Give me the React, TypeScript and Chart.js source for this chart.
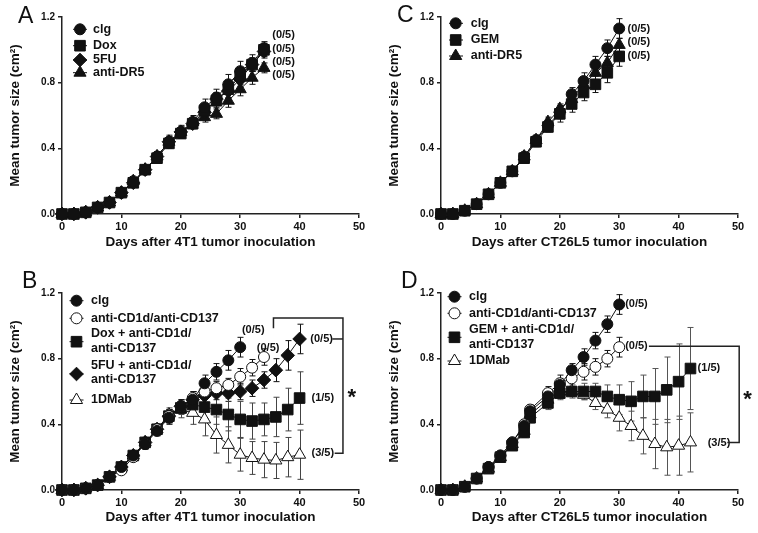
import React, { useEffect, useRef } from 'react';
import { Chart, registerables } from 'chart.js';
Chart.register(...registerables);

const FONT = '"Liberation Sans", Arial, Helvetica, sans-serif';

// ---------- shared axes ----------
const xTickValues = [0, 10, 20, 30, 40, 50];
const yTickValues = [0, 0.4, 0.8, 1.2];
const yTitle = 'Mean tumor size (cm²)';

// ---------- Panel A (4T1) ----------
const daysA = [0, 2, 4, 6, 8, 10, 12, 14, 16, 18, 20, 22, 24, 26, 28, 30, 32, 34];
const aClg = [0, 0, 0.01, 0.04, 0.07, 0.13, 0.2, 0.27, 0.35, 0.44, 0.5, 0.56, 0.65, 0.71, 0.79, 0.87, 0.92, 1.01];
const aClgErr = [0, 0, 0.005, 0.01, 0.01, 0.015, 0.02, 0.02, 0.03, 0.04, 0.04, 0.04, 0.05, 0.05, 0.06, 0.06, 0.05, 0.04];
const aDox = [0, 0, 0.01, 0.04, 0.07, 0.13, 0.19, 0.27, 0.34, 0.43, 0.49, 0.55, 0.63, 0.69, 0.76, 0.84, 0.91, 1.0];
const aDoxErr = [0, 0, 0.005, 0.01, 0.01, 0.015, 0.02, 0.02, 0.03, 0.03, 0.03, 0.03, 0.04, 0.04, 0.05, 0.05, 0.04, 0.04];
const a5fu = [0, 0, 0.01, 0.04, 0.07, 0.13, 0.19, 0.27, 0.35, 0.44, 0.5, 0.55, 0.62, 0.7, 0.75, 0.82, 0.91, 0.99];
const a5fuErr = [0, 0, 0.005, 0.01, 0.01, 0.015, 0.02, 0.02, 0.03, 0.03, 0.03, 0.03, 0.04, 0.04, 0.05, 0.05, 0.04, 0.04];
const aDr5 = [0, 0, 0.01, 0.04, 0.07, 0.13, 0.2, 0.27, 0.35, 0.44, 0.5, 0.56, 0.59, 0.61, 0.69, 0.76, 0.83, 0.89];
const aDr5Err = [0, 0, 0.005, 0.01, 0.01, 0.015, 0.02, 0.02, 0.02, 0.03, 0.03, 0.03, 0.03, 0.03, 0.04, 0.04, 0.04, 0.03];
const legendA = [['clg'], ['Dox'], ['5FU'], ['anti-DR5']];
const notesA = ['(0/5)', '(0/5)', '(0/5)', '(0/5)'];

// ---------- Panel C (CT26L5) ----------
const daysC = [0, 2, 4, 6, 8, 10, 12, 14, 16, 18, 20, 22, 24, 26, 28, 30];
const cClg = [0, 0, 0.02, 0.06, 0.12, 0.19, 0.26, 0.35, 0.45, 0.54, 0.62, 0.73, 0.81, 0.91, 1.01, 1.13];
const cClgErr = [0, 0, 0.005, 0.01, 0.01, 0.015, 0.02, 0.02, 0.03, 0.03, 0.04, 0.04, 0.05, 0.05, 0.05, 0.06];
const cGem = [0, 0, 0.02, 0.06, 0.12, 0.19, 0.26, 0.34, 0.44, 0.53, 0.61, 0.67, 0.74, 0.79, 0.86, 0.96];
const cGemErr = [0, 0, 0.005, 0.01, 0.01, 0.015, 0.02, 0.02, 0.03, 0.03, 0.05, 0.05, 0.05, 0.05, 0.06, 0.06];
const cDr5 = [0, 0, 0.02, 0.06, 0.12, 0.19, 0.26, 0.35, 0.45, 0.56, 0.64, 0.7, 0.79, 0.86, 0.92, 1.03];
const cDr5Err = [0, 0, 0.005, 0.01, 0.01, 0.015, 0.02, 0.02, 0.03, 0.03, 0.03, 0.03, 0.04, 0.04, 0.04, 0.04];
const legendC = [['clg'], ['GEM'], ['anti-DR5']];
const notesC = ['(0/5)', '(0/5)', '(0/5)'];

// ---------- Panel B (4T1 combos) ----------
const daysB = [0, 2, 4, 6, 8, 10, 12, 14, 16, 18, 20, 22, 24, 26, 28, 30, 32, 34, 36, 38, 40];
const bClg = [0, 0, 0.01, 0.03, 0.08, 0.14, 0.21, 0.28, 0.36, 0.44, 0.51, 0.55, 0.65, 0.72, 0.79, 0.87];
const bClgErr = [0, 0, 0.005, 0.01, 0.015, 0.02, 0.02, 0.03, 0.03, 0.04, 0.04, 0.05, 0.05, 0.05, 0.06, 0.06];
const bCd = [0, 0, 0.01, 0.03, 0.08, 0.12, 0.2, 0.28, 0.37, 0.45, 0.51, 0.56, 0.6, 0.62, 0.64, 0.69, 0.745, 0.81];
const bCdErr = [0, 0, 0.005, 0.01, 0.015, 0.02, 0.02, 0.03, 0.03, 0.04, 0.04, 0.04, 0.04, 0.04, 0.04, 0.05, 0.05, 0.05];
const bDox = [0, 0, 0.01, 0.03, 0.08, 0.14, 0.21, 0.29, 0.37, 0.45, 0.5, 0.52, 0.505, 0.49, 0.46, 0.43, 0.42, 0.43, 0.445, 0.49, 0.56];
const bDoxErr = [0, 0, 0.005, 0.01, 0.015, 0.02, 0.02, 0.03, 0.03, 0.04, 0.04, 0.05, 0.07, 0.09, 0.1, 0.11, 0.11, 0.1, 0.12, 0.13, 0.16];
const b5fu = [0, 0, 0.01, 0.03, 0.08, 0.14, 0.21, 0.29, 0.37, 0.45, 0.51, 0.55, 0.575, 0.59, 0.59, 0.6, 0.62, 0.67, 0.73, 0.82, 0.92];
const b5fuErr = [0, 0, 0.005, 0.01, 0.015, 0.02, 0.02, 0.03, 0.03, 0.04, 0.03, 0.04, 0.04, 0.04, 0.05, 0.05, 0.05, 0.05, 0.07, 0.09, 0.09];
const bMab = [0, 0, 0.01, 0.03, 0.08, 0.14, 0.21, 0.29, 0.37, 0.46, 0.49, 0.47, 0.43, 0.335, 0.275, 0.215, 0.195, 0.185, 0.18, 0.2, 0.215];
const bMabErr = [0, 0, 0.005, 0.01, 0.015, 0.02, 0.02, 0.03, 0.03, 0.04, 0.05, 0.07, 0.1, 0.11, 0.11, 0.1, 0.1, 0.11, 0.11, 0.12, 0.15];
const legendB = [['clg'], ['anti-CD1d/anti-CD137'], ['Dox + anti-CD1d/', 'anti-CD137'], ['5FU + anti-CD1d/', 'anti-CD137'], ['1DMab']];
const notesB = ['(0/5)', '(0/5)', '(0/5)', '(1/5)', '(3/5)'];

// ---------- Panel D (CT26L5 combos) ----------
const daysD = [0, 2, 4, 6, 8, 10, 12, 14, 15, 18, 20, 22, 24, 26, 28, 30, 32, 34, 36, 38, 40, 42];
const dClg = [0, 0, 0.02, 0.07, 0.14, 0.21, 0.29, 0.39, 0.48, 0.57, 0.64, 0.73, 0.81, 0.91, 1.01, 1.13];
const dClgErr = [0, 0, 0.005, 0.01, 0.015, 0.02, 0.02, 0.03, 0.03, 0.04, 0.04, 0.04, 0.05, 0.05, 0.05, 0.06];
const dCd = [0, 0, 0.02, 0.07, 0.14, 0.21, 0.29, 0.4, 0.49, 0.59, 0.65, 0.68, 0.72, 0.75, 0.8, 0.87];
const dCdErr = [0, 0, 0.005, 0.01, 0.015, 0.02, 0.02, 0.03, 0.03, 0.04, 0.05, 0.05, 0.05, 0.05, 0.05, 0.06];
const dGem = [0, 0, 0.02, 0.07, 0.13, 0.2, 0.27, 0.35, 0.44, 0.53, 0.59, 0.6, 0.6, 0.6, 0.57, 0.55, 0.54, 0.57, 0.57, 0.61, 0.66, 0.74];
const dGemErr = [0, 0, 0.005, 0.01, 0.015, 0.02, 0.02, 0.03, 0.03, 0.04, 0.04, 0.04, 0.05, 0.05, 0.07, 0.09, 0.12, 0.13, 0.17, 0.2, 0.23, 0.25];
const dMab = [0, 0, 0.02, 0.07, 0.13, 0.2, 0.28, 0.36, 0.46, 0.55, 0.6, 0.6, 0.58, 0.53, 0.49, 0.44, 0.39, 0.33, 0.28, 0.26, 0.27, 0.29];
const dMabErr = [0, 0, 0.005, 0.01, 0.015, 0.02, 0.02, 0.03, 0.03, 0.04, 0.04, 0.03, 0.03, 0.04, 0.05, 0.08, 0.09, 0.11, 0.15, 0.17, 0.18, 0.18];
const legendD = [['clg'], ['anti-CD1d/anti-CD137'], ['GEM + anti-CD1d/', 'anti-CD137'], ['1DMab']];
const notesD = ['(0/5)', '(0/5)', '(1/5)', '(3/5)'];

// ---------- layout ----------
const AREA_LEFT = 62;
const AREA_RIGHT = 359;
const PANEL_W = 379;

type Series = {
  label: string[]; days: number[]; vals: number[]; errs: number[];
  style: string; filled: boolean; r: number; errColor: string;
};
type Note = { x: number; y: number; text: string; align: CanvasTextAlign };
type LegendRow = { ys: number[]; my: number };
type Spec = {
  left: number; top: number; height: number; areaTop: number; areaBottom: number; titlePad: number;
  letter: string; letterX: number; letterY: number; xTitle: string;
  series: Series[]; notes: Note[]; brackets: number[][][]; star?: { x: number; y: number };
  legend: { mx: number; x0: number; x1: number; tx: number; rows: LegendRow[] };
};

function mk(label: string[], days: number[], vals: number[], errs: number[], style: string, filled: boolean, r: number, errColor = '#111'): Series {
  return { label, days, vals, errs, style, filled, r, errColor };
}

const specs: Spec[] = [
  {
    left: 0, top: 0, height: 266, areaTop: 17, areaBottom: 214, titlePad: 16,
    letter: 'A', letterX: 18, letterY: 23, xTitle: 'Days after 4T1 tumor inoculation',
    series: [
      mk(legendA[0], daysA, aClg, aClgErr, 'circle', true, 5.5),
      mk(legendA[1], daysA, aDox, aDoxErr, 'rect', true, 7.5),
      mk(legendA[2], daysA, a5fu, a5fuErr, 'rectRot', true, 6.8),
      mk(legendA[3], daysA, aDr5, aDr5Err, 'triangle', true, 7),
    ],
    notes: [
      { x: 35.4, y: 1.09, text: notesA[0], align: 'left' },
      { x: 35.4, y: 1.005, text: notesA[1], align: 'left' },
      { x: 35.4, y: 0.924, text: notesA[2], align: 'left' },
      { x: 35.4, y: 0.849, text: notesA[3], align: 'left' },
    ],
    brackets: [],
    legend: { mx: 80, x0: 73, x1: 87, tx: 93, rows: [{ ys: [29.3], my: 29.3 }, { ys: [45.7], my: 45.7 }, { ys: [60], my: 60 }, { ys: [72.7], my: 72.7 }] },
  },
  {
    left: 379, top: 0, height: 266, areaTop: 17, areaBottom: 214, titlePad: 16,
    letter: 'C', letterX: 18, letterY: 22, xTitle: 'Days after CT26L5 tumor inoculation',
    series: [
      mk(legendC[0], daysC, cClg, cClgErr, 'circle', true, 5.5),
      mk(legendC[1], daysC, cGem, cGemErr, 'rect', true, 7.5),
      mk(legendC[2], daysC, cDr5, cDr5Err, 'triangle', true, 7),
    ],
    notes: [
      { x: 31.4, y: 1.127, text: notesC[0], align: 'left' },
      { x: 31.4, y: 1.046, text: notesC[1], align: 'left' },
      { x: 31.4, y: 0.964, text: notesC[2], align: 'left' },
    ],
    brackets: [],
    legend: { mx: 76.7, x0: 70, x1: 84, tx: 91.7, rows: [{ ys: [23.3], my: 23.3 }, { ys: [40], my: 40 }, { ys: [56], my: 56 }] },
  },
  {
    left: 0, top: 266, height: 267, areaTop: 27, areaBottom: 224, titlePad: 7.4,
    letter: 'B', letterX: 22, letterY: 22, xTitle: 'Days after 4T1 tumor inoculation',
    series: [
      mk(legendB[0], daysB, bClg, bClgErr, 'circle', true, 5.5),
      mk(legendB[1], daysB, bCd, bCdErr, 'circle', false, 5.5),
      mk(legendB[2], daysB, bDox, bDoxErr, 'rect', true, 7.5, '#444'),
      mk(legendB[3], daysB, b5fu, b5fuErr, 'rectRot', true, 6.8),
      mk(legendB[4], daysB, bMab, bMabErr, 'triangle', false, 7, '#444'),
    ],
    notes: [
      { x: 32.2, y: 0.975, text: notesB[0], align: 'center' },
      { x: 34.7, y: 0.864, text: notesB[1], align: 'center' },
      { x: 41.8, y: 0.92, text: notesB[2], align: 'left' },
      { x: 42.0, y: 0.559, text: notesB[3], align: 'left' },
      { x: 42.0, y: 0.224, text: notesB[4], align: 'left' },
    ],
    brackets: [
      [[35.6, 0.985], [35.6, 1.047], [47.3, 1.047], [47.3, 0.224], [45.9, 0.224]],
      [[45.5, 0.92], [47.3, 0.92]],
    ],
    star: { x: 48.8, y: 0.6 },
    legend: {
      mx: 76.5, x0: 69.5, x1: 83.5, tx: 91,
      rows: [{ ys: [34.7], my: 34.7 }, { ys: [52.3], my: 52.3 }, { ys: [67.3, 82.3], my: 75.7 }, { ys: [100, 114], my: 108 }, { ys: [134], my: 134 }],
    },
  },
  {
    left: 379, top: 266, height: 267, areaTop: 27, areaBottom: 224, titlePad: 7.4,
    letter: 'D', letterX: 22, letterY: 22, xTitle: 'Days after CT26L5 tumor inoculation',
    series: [
      mk(legendD[0], daysD, dClg, dClgErr, 'circle', true, 5.5),
      mk(legendD[1], daysD, dCd, dCdErr, 'circle', false, 5.5),
      mk(legendD[2], daysD, dGem, dGemErr, 'rect', true, 7.5, '#555'),
      mk(legendD[3], daysD, dMab, dMabErr, 'triangle', false, 7, '#555'),
    ],
    notes: [
      { x: 31.0, y: 1.135, text: notesD[0], align: 'left' },
      { x: 31.0, y: 0.875, text: notesD[1], align: 'left' },
      { x: 43.2, y: 0.742, text: notesD[2], align: 'left' },
      { x: 44.9, y: 0.289, text: notesD[3], align: 'left' },
    ],
    brackets: [
      [[35.0, 0.875], [50.2, 0.875], [50.2, 0.289], [48.2, 0.289]],
    ],
    star: { x: 51.6, y: 0.59 },
    legend: {
      mx: 75.5, x0: 68.5, x1: 82.5, tx: 90,
      rows: [{ ys: [30.7], my: 30.7 }, { ys: [47.3], my: 47.3 }, { ys: [64, 79], my: 71.3 }, { ys: [95], my: 95 }],
    },
  },
];

function drawMarker(ctx: CanvasRenderingContext2D, style: string, x: number, y: number, r: number, filled: boolean) {
  ctx.beginPath();
  if (style === 'circle') ctx.arc(x, y, r, 0, Math.PI * 2);
  else if (style === 'rect') { const s = r * Math.SQRT1_2; ctx.rect(x - s, y - s, 2 * s, 2 * s); }
  else if (style === 'rectRot') { ctx.moveTo(x - r, y); ctx.lineTo(x, y - r); ctx.lineTo(x + r, y); ctx.lineTo(x, y + r); ctx.closePath(); }
  else { ctx.moveTo(x, y - r); ctx.lineTo(x + 0.866 * r, y + 0.5 * r); ctx.lineTo(x - 0.866 * r, y + 0.5 * r); ctx.closePath(); }
  ctx.fillStyle = filled ? '#111' : '#fff';
  ctx.fill();
  ctx.lineWidth = 1;
  ctx.strokeStyle = '#111';
  ctx.stroke();
}

function Panel({ spec }: { spec: Spec }) {
  const ref = useRef<HTMLCanvasElement | null>(null);
  useEffect(() => {
    const canvas = ref.current;
    if (!canvas) return;
    const errorPlugin = {
      id: 'errBars',
      beforeDatasetsDraw(chart: any) {
        const ctx = chart.ctx as CanvasRenderingContext2D;
        const xs = chart.scales.x, ys = chart.scales.y;
        ctx.save();
        spec.series.slice().reverse().forEach((s) => {
          ctx.strokeStyle = s.errColor;
          ctx.lineWidth = 1;
          s.vals.forEach((v, i) => {
            const e = s.errs[i];
            if (!e) return;
            const px = Math.round(xs.getPixelForValue(s.days[i])) + 0.5;
            const y1 = ys.getPixelForValue(v + e);
            const y2 = ys.getPixelForValue(v - e);
            ctx.beginPath();
            ctx.moveTo(px, y1); ctx.lineTo(px, y2);
            ctx.moveTo(px - 3, y1); ctx.lineTo(px + 3, y1);
            ctx.moveTo(px - 3, y2); ctx.lineTo(px + 3, y2);
            ctx.stroke();
          });
        });
        ctx.restore();
      },
    };
    const annotPlugin = {
      id: 'annot',
      afterDatasetsDraw(chart: any) {
        const ctx = chart.ctx as CanvasRenderingContext2D;
        const xs = chart.scales.x, ys = chart.scales.y;
        ctx.save();
        // notes
        ctx.fillStyle = '#111';
        ctx.font = `bold 11px ${FONT}`;
        ctx.textBaseline = 'middle';
        spec.notes.forEach((n) => {
          ctx.textAlign = n.align;
          ctx.fillText(n.text, xs.getPixelForValue(n.x), ys.getPixelForValue(n.y));
        });
        // brackets
        ctx.strokeStyle = '#222';
        ctx.lineWidth = 1.5;
        spec.brackets.forEach((pl) => {
          ctx.beginPath();
          pl.forEach((p, i) => {
            const x = xs.getPixelForValue(p[0]);
            const y = ys.getPixelForValue(p[1]);
            if (i === 0) ctx.moveTo(x, y); else ctx.lineTo(x, y);
          });
          ctx.stroke();
        });
        if (spec.star) {
          ctx.font = `bold 22px ${FONT}`;
          ctx.textAlign = 'center';
          ctx.textBaseline = 'alphabetic';
          ctx.fillText('*', xs.getPixelForValue(spec.star.x), ys.getPixelForValue(spec.star.y) + 12.5);
        }
        // legend
        const lg = spec.legend;
        spec.series.forEach((s, i) => {
          const row = lg.rows[i];
          ctx.strokeStyle = '#111';
          ctx.lineWidth = 1;
          ctx.beginPath();
          ctx.moveTo(lg.x0, row.my); ctx.lineTo(lg.x1, row.my);
          ctx.stroke();
          drawMarker(ctx, s.style, lg.mx, row.my, s.r, s.filled);
          ctx.fillStyle = '#111';
          ctx.font = `bold 12.5px ${FONT}`;
          ctx.textAlign = 'left';
          ctx.textBaseline = 'middle';
          s.label.forEach((t, k) => ctx.fillText(t, lg.tx, row.ys[k]));
        });
        // panel letter
        ctx.font = `23px ${FONT}`;
        ctx.textAlign = 'left';
        ctx.textBaseline = 'alphabetic';
        ctx.fillStyle = '#111';
        ctx.fillText(spec.letter, spec.letterX, spec.letterY);
        ctx.restore();
      },
    };
    const tickFont = { family: FONT, weight: 'bold' as const };
    const chart = new Chart(canvas, {
      type: 'line',
      data: {
        datasets: spec.series.map((s) => ({
          label: s.label.join(' '),
          data: s.vals.map((v, i) => ({ x: s.days[i], y: v })),
          borderColor: '#111',
          borderWidth: 1,
          pointStyle: s.style as any,
          pointRadius: s.r,
          pointBorderWidth: 1,
          pointBorderColor: '#111',
          pointBackgroundColor: s.filled ? '#111' : '#fff',
          fill: false,
          tension: 0,
          clip: false as any,
        })),
      },
      options: {
        responsive: false,
        animation: false,
        events: [],
        layout: { padding: { left: 0, right: PANEL_W - AREA_RIGHT, top: spec.areaTop, bottom: 0 } },
        plugins: { legend: { display: false }, tooltip: { enabled: false } },
        scales: {
          x: {
            type: 'linear', min: 0, max: 50,
            afterBuildTicks: (s: any) => { s.ticks = xTickValues.map((v) => ({ value: v })); },
            afterFit: (s: any) => { s.height = spec.height - spec.areaBottom; },
            grid: { display: true, drawOnChartArea: false, drawTicks: true, tickLength: 4, color: '#222', lineWidth: 1.5 },
            border: { display: true, color: '#222', width: 1.5 },
            ticks: { font: { ...tickFont, size: 11 }, color: '#111', padding: 2, maxRotation: 0, autoSkip: false, callback: (v: any) => String(v) },
            title: { display: true, text: spec.xTitle, color: '#111', font: { family: FONT, size: 13.5, weight: 'bold' }, padding: { top: 0, bottom: spec.titlePad } },
          },
          y: {
            type: 'linear', min: 0, max: 1.2,
            afterBuildTicks: (s: any) => { s.ticks = yTickValues.map((v) => ({ value: v })); },
            afterFit: (s: any) => { s.width = AREA_LEFT; },
            grid: { display: true, drawOnChartArea: false, drawTicks: true, tickLength: 4, color: '#222', lineWidth: 1.5 },
            border: { display: true, color: '#222', width: 1.5 },
            ticks: { font: { ...tickFont, size: 10 }, color: '#111', padding: 3, autoSkip: false, callback: (v: any) => Number(v).toFixed(1) },
            title: { display: true, text: yTitle, color: '#111', font: { family: FONT, size: 13.5, weight: 'bold' }, padding: { top: 7.3, bottom: 0 } },
          },
        },
      } as any,
      plugins: [errorPlugin, annotPlugin],
    });
    return () => chart.destroy();
  }, [spec]);
  return (
    <div style={{ position: 'absolute', left: spec.left, top: spec.top, width: PANEL_W, height: spec.height }}>
      <canvas ref={ref} width={PANEL_W} height={spec.height} style={{ width: PANEL_W, height: spec.height, display: 'block' }} />
    </div>
  );
}

export default function App() {
  return (
    <div style={{ position: 'absolute', left: 0, top: 0, width: 758, height: 533, background: '#fff', overflow: 'hidden' }}>
      {specs.map((s) => (
        <Panel key={s.letter} spec={s} />
      ))}
    </div>
  );
}
